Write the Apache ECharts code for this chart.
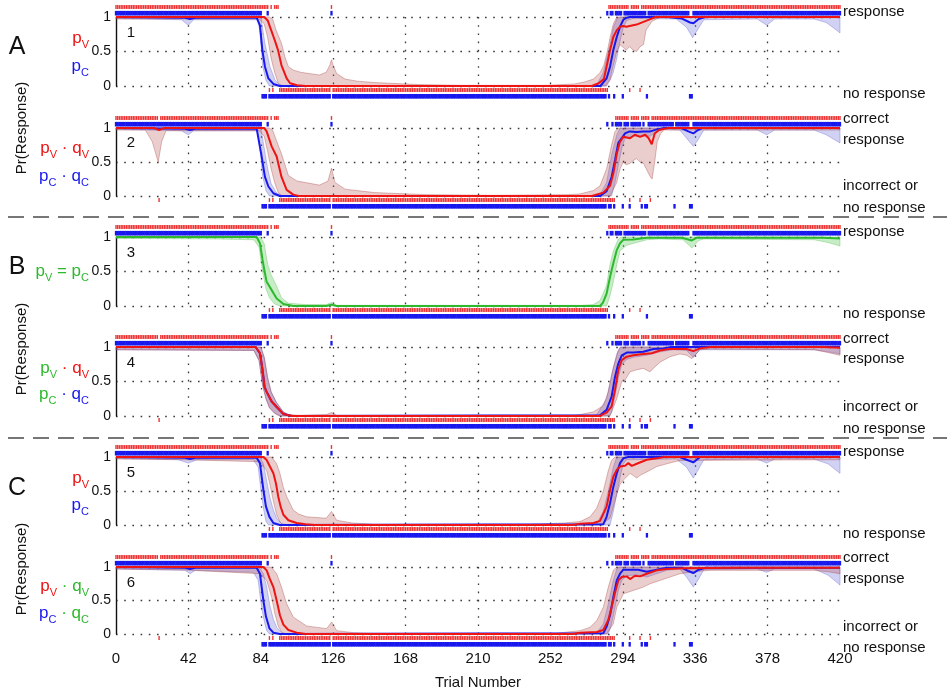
<!DOCTYPE html>
<html>
<head>
<meta charset="utf-8">
<title>Pr(Response)</title>
<script src="https://cdn.jsdelivr.net/npm/echarts@6/dist/echarts.min.js"></script>
<style>
  html, body { margin: 0; padding: 0; background: #fff; }
  #chart { width: 947px; height: 694px; }
</style>
</head>
<body>
<div id="chart"></div>
<script>
// 刻度
const trialTicks = [0, 42, 84, 126, 168, 210, 252, 294, 336, 378, 420]
const probTicks = [0, 0.5, 1]
const respLabels = ['response', 'no response']
const corrLabels = ['correct', 'response', 'incorrect or', 'no response']

// 反应栅格 (试次区间), A 组用于面板 1/3/5, B 组用于面板 2/4/6
const redTopA = [[0, 88], [90, 90], [92, 94], [125, 125], [286, 297], [299, 303], [305, 420]]
const redBotA = [[89, 89], [91, 91], [95, 124], [126, 285], [298, 298], [304, 304]]
const blueTopA = [[0, 84], [88, 88], [125, 125], [285, 285], [287, 288], [290, 293], [295, 307], [309, 332], [335, 420]]
const blueBotA = [[85, 87], [89, 124], [126, 284], [286, 286], [289, 289], [294, 294], [308, 308], [333, 334]]
const redTopB = [[0, 24], [26, 88], [90, 90], [92, 94], [125, 125], [290, 297], [299, 303], [305, 309], [311, 420]]
const redBotB = [[25, 25], [89, 89], [91, 91], [95, 124], [126, 289], [298, 298], [304, 304], [310, 310]]
const blueTopB = [[0, 84], [88, 88], [125, 125], [285, 285], [288, 288], [290, 293], [295, 297], [299, 304], [306, 306], [309, 323], [325, 332], [335, 420]]
const blueBotB = [[85, 87], [89, 124], [126, 284], [286, 287], [289, 289], [294, 294], [298, 298], [305, 305], [307, 308], [324, 324], [333, 334]]

// 面板 1
const p1RedLine = [[0, 1], [86, 1], [88, 0.95], [90, 0.81], [92, 0.67], [94, 0.52], [96, 0.3], [99, 0.11], [101, 0.04], [105, 0.01], [110, 0], [276, 0], [280, 0.04], [283, 0.1], [285, 0.33], [286.6, 0.52], [288.5, 0.71], [290.5, 0.81], [292.4, 0.86], [294.3, 0.87], [296, 0.86], [298, 0.87], [302, 0.89], [306, 0.93], [310, 0.97], [313, 1], [420, 1]]
const p1RedUpper = [[0, 1], [89, 1], [91, 0.96], [93, 0.8], [96, 0.62], [98, 0.42], [100, 0.28], [103, 0.23], [107, 0.2], [112, 0.18], [118, 0.16], [122, 0.2], [124, 0.3], [125, 0.38], [126, 0.3], [128, 0.18], [133, 0.1], [140, 0.07], [150, 0.05], [176, 0.02], [200, 0.01], [250, 0.01], [266, 0.03], [272, 0.06], [277, 0.1], [281, 0.2], [283, 0.3], [285, 0.5], [286.6, 0.7], [288.5, 0.9], [290.5, 1], [420, 1]]
const p1RedLower = [[0, 0.97], [83, 0.97], [86, 0.9], [88, 0.7], [90, 0.4], [92, 0.2], [94, 0.05], [96, 0], [284, 0], [286.6, 0.1], [288.5, 0.3], [290.5, 0.5], [292.4, 0.6], [296, 0.52], [298, 0.57], [300, 0.52], [302, 0.5], [304, 0.57], [306, 0.6], [307.5, 0.81], [311, 0.94], [315, 0.99], [420, 0.99]]
const p1BlueLine = [[0, 1], [40, 0.99], [43, 0.97], [46, 0.99], [81.6, 0.99], [83.5, 0.88], [84.9, 0.52], [86.4, 0.28], [88.4, 0.11], [91.3, 0.03], [95, 0], [281, 0], [284.6, 0.11], [286.6, 0.28], [288.5, 0.52], [290.5, 0.71], [292.4, 0.86], [294.3, 0.96], [296.3, 0.99], [298, 1], [320, 1], [328, 0.98], [333, 0.92], [335, 0.91], [338, 0.97], [342, 1], [420, 1]]
const p1BlueUpper = [[0, 1], [84, 1], [86.4, 0.62], [89.3, 0.28], [92.2, 0.09], [95, 0.02], [98, 0], [277, 0], [279, 0.02], [282.7, 0.2], [284.6, 0.4], [286.6, 0.6], [288.5, 0.85], [290.5, 0.97], [292.4, 1], [420, 1]]
const p1BlueLower = [[0, 0.98], [38, 0.96], [42, 0.88], [45, 0.96], [82, 0.96], [83.5, 0.8], [85, 0.3], [87, 0.08], [89, 0], [284.6, 0], [286.6, 0.08], [288.5, 0.2], [290.5, 0.4], [292.4, 0.65], [294.3, 0.85], [296.3, 0.95], [300, 0.98], [325, 0.97], [331, 0.85], [334.5, 0.7], [337, 0.8], [341, 0.96], [372, 0.97], [377.5, 0.88], [382, 0.97], [405, 0.97], [412, 0.92], [420, 0.77]]

// 面板 2
const p2RedLine = [[0, 1], [22, 1], [25, 0.97], [28, 1], [86, 1], [87.4, 0.95], [90.3, 0.73], [93.2, 0.58], [96, 0.28], [99, 0.09], [102.8, 0.02], [106, 0], [276, 0], [277, 0.02], [282.7, 0.05], [286.6, 0.15], [288.5, 0.33], [290.5, 0.62], [292.4, 0.8], [294.3, 0.87], [298.2, 0.85], [301, 0.9], [304, 0.87], [307, 0.9], [309, 0.85], [310.8, 0.76], [312.5, 0.92], [315, 0.97], [320, 1], [420, 1]]
const p2RedUpper = [[0, 1], [89, 1], [91, 0.96], [93, 0.82], [96, 0.62], [100, 0.3], [105, 0.22], [118, 0.16], [123, 0.22], [125, 0.41], [127, 0.2], [133, 0.1], [150, 0.05], [180, 0.02], [220, 0.01], [262, 0.02], [269, 0.03], [277, 0.08], [280.8, 0.15], [284.6, 0.4], [287.5, 0.75], [289.5, 0.95], [291.4, 1], [420, 1]]
const p2RedLower = [[0, 0.97], [17, 0.97], [21, 0.8], [24.5, 0.5], [26.5, 0.8], [29, 0.96], [83, 0.96], [86, 0.88], [88, 0.65], [90, 0.4], [92, 0.2], [94, 0.06], [96, 0], [286.6, 0], [290.5, 0.2], [292.4, 0.4], [294.3, 0.5], [296, 0.46], [298.2, 0.48], [300, 0.52], [302, 0.55], [304, 0.5], [306, 0.48], [308, 0.38], [310, 0.28], [311, 0.25], [312.5, 0.5], [314, 0.8], [316, 0.92], [318, 0.97], [420, 0.97]]
const p2BlueLine = [[0, 1], [40, 0.99], [43, 0.97], [46, 0.99], [81.6, 0.99], [84.5, 0.58], [86.4, 0.28], [88.4, 0.14], [91.3, 0.04], [95, 0], [280.8, 0], [284.6, 0.07], [287.5, 0.28], [289.5, 0.53], [291.4, 0.78], [293.4, 0.85], [295.3, 0.92], [298, 0.95], [302, 0.94], [306, 0.95], [310, 0.95], [313.7, 0.98], [318, 1], [328, 1], [332, 0.95], [334.9, 0.92], [337, 0.96], [340, 1], [420, 1]]
const p2BlueUpper = [[0, 1], [84, 1], [86, 0.7], [88, 0.4], [90, 0.18], [93, 0.05], [97, 0], [278, 0], [280.8, 0.02], [284.6, 0.2], [287.5, 0.6], [290.5, 0.9], [292.4, 1], [420, 1]]
const p2BlueLower = [[0, 0.98], [38, 0.96], [42, 0.9], [45, 0.96], [82, 0.96], [83.5, 0.7], [85, 0.3], [87, 0.08], [89, 0], [287.5, 0], [289.5, 0.2], [291.4, 0.45], [293.4, 0.7], [295.3, 0.85], [300, 0.88], [310, 0.88], [313.7, 0.95], [318, 0.98], [327, 0.97], [331, 0.85], [334.9, 0.73], [337.5, 0.82], [341, 0.97], [372, 0.97], [377.5, 0.9], [382, 0.97], [405, 0.97], [412, 0.9], [420, 0.78]]

// 面板 3
const p3GreenLine = [[0, 1], [81.6, 1], [83.5, 0.91], [85, 0.67], [86.2, 0.5], [87.4, 0.35], [90.3, 0.23], [93.2, 0.11], [97.1, 0.03], [102.8, 0], [122, 0], [125, 0.02], [128, 0], [280.8, 0], [282.5, 0.05], [284.6, 0.18], [286.6, 0.42], [288.5, 0.62], [290.5, 0.81], [292.4, 0.91], [294.3, 0.96], [300, 0.965], [307.9, 0.99], [328, 0.99], [331, 0.97], [334, 0.95], [337, 0.99], [410, 0.99], [420, 0.98]]
const p3GreenUpper = [[0, 1], [84, 1], [86, 0.9], [88, 0.6], [90, 0.45], [93, 0.3], [96, 0.12], [100, 0.04], [110, 0.02], [122, 0.02], [125, 0.05], [128, 0.01], [270, 0.01], [276.9, 0.02], [280.8, 0.08], [284.6, 0.3], [286.6, 0.6], [288.5, 0.8], [291.4, 0.97], [293, 1], [420, 1]]
const p3GreenLower = [[0, 0.98], [60, 0.97], [80, 0.96], [83, 0.85], [85, 0.5], [87, 0.25], [89, 0.12], [92, 0.03], [95, 0], [284.6, 0], [286.6, 0.15], [288.5, 0.35], [290.5, 0.6], [292.4, 0.8], [296.3, 0.88], [302, 0.92], [308, 0.96], [315, 0.97], [329, 0.96], [334, 0.84], [338, 0.95], [341, 0.97], [405, 0.96], [413, 0.92], [420, 0.87]]

// 面板 4
const p4RedLine = [[0, 1], [81, 1], [83.5, 0.91], [85, 0.67], [86.2, 0.42], [87.4, 0.35], [90.3, 0.21], [93.2, 0.13], [97, 0.03], [102, 0], [280.8, 0], [282, 0.02], [284.6, 0.05], [287.5, 0.14], [289.5, 0.38], [291.4, 0.67], [293.4, 0.81], [296.3, 0.86], [300.1, 0.88], [305.9, 0.9], [310.8, 0.91], [315.6, 0.95], [321, 0.97], [331, 0.97], [334.9, 0.94], [338.8, 0.98], [345, 1], [410, 1], [420, 0.99]]
const p4RedUpper = [[0, 1], [84, 1], [86, 0.85], [88, 0.55], [90, 0.35], [93, 0.2], [97, 0.06], [100, 0.02], [106, 0.01], [122, 0.02], [125, 0.05], [128, 0.01], [265, 0.01], [269.2, 0.02], [276.9, 0.06], [282.7, 0.15], [285.6, 0.35], [288.5, 0.7], [291.4, 0.95], [293, 1], [420, 1]]
const p4RedLower = [[0, 0.96], [80, 0.95], [83, 0.8], [85, 0.45], [87, 0.25], [89, 0.12], [92, 0.04], [95, 0], [286.6, 0], [290.5, 0.25], [293.4, 0.5], [295.3, 0.52], [298.2, 0.64], [302.1, 0.67], [305.9, 0.69], [309.8, 0.64], [311.7, 0.69], [315.6, 0.78], [321.4, 0.86], [327.2, 0.9], [331, 0.88], [334, 0.83], [338.8, 0.96], [345, 0.97], [405, 0.96], [413, 0.92], [420, 0.88]]
const p4BlueLine = [[0, 1], [81, 1], [83.5, 0.91], [85, 0.67], [86.2, 0.42], [87.4, 0.35], [90.3, 0.21], [93.2, 0.13], [97, 0.03], [102, 0], [280.8, 0.01], [284.6, 0.09], [287.5, 0.28], [289.5, 0.57], [291.4, 0.76], [293.4, 0.88], [296.3, 0.92], [300.1, 0.92], [305.9, 0.93], [311.7, 0.97], [317.5, 0.98], [322, 1], [420, 1]]
const p4BlueUpper = [[0, 1], [84, 1], [86, 0.85], [88, 0.55], [90, 0.35], [93, 0.2], [97, 0.06], [100, 0.02], [106, 0], [275, 0], [278.9, 0.02], [284.6, 0.25], [287.5, 0.6], [290.5, 0.9], [292.4, 1], [420, 1]]
const p4BlueLower = [[0, 0.96], [80, 0.95], [83, 0.8], [85, 0.45], [87, 0.25], [89, 0.12], [92, 0.04], [95, 0], [286, 0], [287.5, 0.05], [289.5, 0.3], [291.4, 0.55], [293.4, 0.75], [296.3, 0.82], [300.1, 0.85], [307.9, 0.88], [315.6, 0.93], [323.3, 0.96], [331, 0.95], [334.9, 0.85], [338.8, 0.96], [405, 0.96], [413, 0.93], [420, 0.9]]

// 面板 5
const p5RedLine = [[0, 1], [85.5, 1], [87.4, 0.956], [89.3, 0.86], [91.3, 0.76], [92.8, 0.61], [94.1, 0.42], [95.5, 0.27], [97.1, 0.15], [100, 0.07], [104.8, 0.03], [110, 0.01], [115, 0], [265, 0], [269.2, 0.02], [277, 0.03], [280.8, 0.06], [284.6, 0.27], [286.6, 0.515], [288.5, 0.71], [290.5, 0.81], [292.4, 0.86], [295.3, 0.87], [297.2, 0.91], [299.2, 0.87], [302.1, 0.9], [307.9, 0.96], [313.7, 0.98], [318, 1], [420, 1]]
const p5RedUpper = [[0, 1], [90.3, 1], [93.2, 0.9], [95.1, 0.76], [97.1, 0.55], [99, 0.42], [102.8, 0.22], [106, 0.16], [110.6, 0.12], [122, 0.1], [125, 0.2], [128, 0.07], [137, 0.03], [150, 0.01], [240, 0.01], [260, 0.03], [269.2, 0.05], [275, 0.12], [278.9, 0.25], [282.7, 0.5], [285.6, 0.8], [287.5, 0.95], [289.5, 1], [420, 1]]
const p5RedLower = [[0, 0.97], [40, 0.96], [83.5, 0.93], [87.4, 0.8], [89.3, 0.6], [91.3, 0.35], [93.2, 0.15], [95.1, 0.04], [97.1, 0], [280.8, 0], [286.6, 0.1], [290.5, 0.45], [292.4, 0.6], [294.3, 0.66], [296.3, 0.71], [298.2, 0.76], [302.1, 0.69], [304, 0.73], [307.9, 0.78], [313.7, 0.86], [319.5, 0.9], [327.2, 0.95], [420, 0.96]]
const p5BlueLine = [[0, 1], [40, 0.99], [43, 0.97], [46, 0.99], [81.6, 0.99], [83.5, 0.91], [84.5, 0.71], [85.5, 0.515], [87, 0.27], [89, 0.12], [91.3, 0.03], [95, 0], [282.7, 0.01], [284.6, 0.12], [286.6, 0.32], [288.5, 0.56], [290.5, 0.76], [292.4, 0.91], [294.3, 0.98], [297, 1], [327, 1], [331, 0.96], [334.9, 0.92], [338.8, 1], [420, 1]]
const p5BlueUpper = [[0, 1], [83.5, 1], [85.5, 0.9], [87.4, 0.65], [89.3, 0.4], [91.3, 0.22], [93.2, 0.1], [96, 0.02], [100, 0], [276, 0], [278.9, 0.02], [282.7, 0.2], [285.6, 0.5], [288.5, 0.85], [290.5, 1], [420, 1]]
const p5BlueLower = [[0, 0.98], [36, 0.96], [42, 0.91], [47, 0.96], [79.7, 0.96], [82.5, 0.85], [83.9, 0.55], [85.5, 0.25], [87, 0.05], [88.5, 0], [286.6, 0], [288.5, 0.2], [290.5, 0.45], [292.4, 0.7], [294.3, 0.9], [296.3, 0.96], [325, 0.97], [331, 0.85], [334.9, 0.69], [337.5, 0.8], [341, 0.96], [372, 0.97], [377.5, 0.91], [382, 0.97], [405, 0.97], [413, 0.9], [420, 0.76]]

// 面板 6
const p6RedLine = [[0, 1], [85.5, 1], [87.4, 0.95], [89.3, 0.82], [91.3, 0.7], [93.2, 0.5], [95.1, 0.28], [97.1, 0.14], [100, 0.06], [104.8, 0.02], [110, 0], [265, 0], [269.2, 0.02], [278.9, 0.03], [282.7, 0.06], [285.6, 0.21], [287.5, 0.4], [289.5, 0.62], [291.4, 0.8], [293.4, 0.85], [296.3, 0.86], [298.2, 0.82], [301.1, 0.87], [304, 0.86], [307.9, 0.9], [313.7, 0.95], [319.5, 0.97], [330, 0.98], [360, 0.99], [420, 0.99]]
const p6RedUpper = [[0, 1], [90, 1], [93.2, 0.9], [96, 0.7], [99, 0.45], [102.9, 0.25], [110.6, 0.12], [122.2, 0.08], [125.1, 0.18], [128, 0.05], [137.7, 0.02], [150, 0.01], [255, 0.01], [262, 0.03], [269.2, 0.05], [275, 0.1], [278.9, 0.2], [282.7, 0.4], [285.6, 0.7], [288.5, 0.95], [290.5, 1], [420, 1]]
const p6RedLower = [[0, 0.97], [40, 0.955], [83.5, 0.9], [87.4, 0.8], [90.3, 0.55], [92.2, 0.3], [94.1, 0.12], [96, 0.03], [98, 0], [284.6, 0], [288.5, 0.15], [290.5, 0.4], [293.4, 0.55], [294.3, 0.6], [300.1, 0.65], [305.9, 0.7], [309.8, 0.75], [315.6, 0.8], [321.4, 0.85], [327.2, 0.9], [335, 0.93], [345, 0.95], [405, 0.95], [413, 0.93], [420, 0.9]]
const p6BlueLine = [[0, 1], [40, 0.99], [43, 0.97], [46, 0.99], [81.6, 0.99], [83.5, 0.9], [84.5, 0.7], [85.5, 0.5], [87, 0.26], [89, 0.085], [91.3, 0.02], [95, 0], [282.7, 0.01], [284.6, 0.11], [286.6, 0.28], [288.5, 0.55], [290.5, 0.8], [292.4, 0.9], [294.3, 0.96], [300, 0.96], [303, 0.96], [307.9, 0.93], [313.7, 0.96], [319.5, 0.99], [328, 0.99], [332, 0.94], [334.9, 0.91], [338, 0.96], [342, 0.99], [420, 0.99]]
const p6BlueUpper = [[0, 1], [83.5, 0.98], [85.5, 0.9], [87.4, 0.7], [89.3, 0.42], [91.3, 0.22], [93.2, 0.1], [96, 0.02], [100, 0], [275, 0], [278.9, 0.02], [282.7, 0.15], [285.6, 0.45], [288.5, 0.8], [290.5, 0.97], [292, 1], [420, 1]]
const p6BlueLower = [[0, 0.97], [40, 0.95], [43, 0.9], [46, 0.95], [79.7, 0.92], [82.5, 0.8], [83.9, 0.5], [85.5, 0.25], [87.4, 0.05], [89, 0], [285.6, 0], [287.5, 0.15], [289.5, 0.4], [291.4, 0.65], [293.4, 0.8], [296.3, 0.87], [302.1, 0.88], [307.9, 0.85], [313.7, 0.9], [319.5, 0.95], [327, 0.97], [331, 0.85], [334.9, 0.7], [337.5, 0.8], [341, 0.96], [372, 0.97], [377.5, 0.92], [382, 0.97], [405, 0.97], [413, 0.88], [420, 0.73]]

const RED = '#ee1414'
const BLUE = '#1818ee'
const GREEN = '#2eb82e'
const RED_BAND = { fill: 'rgba(178,70,70,0.27)', stroke: 'rgba(165,65,65,0.45)' }
const BLUE_BAND = { fill: 'rgba(85,85,210,0.27)', stroke: 'rgba(80,80,200,0.4)' }
const GREEN_BAND = { fill: 'rgba(80,200,80,0.32)', stroke: 'rgba(70,180,70,0.4)' }
const FONT = '"Liberation Sans", Arial, sans-serif'

const gridTops = [17, 128, 237, 347, 457, 567]
const gridHeights = [69, 68, 69, 69, 68, 67]

const panels = [
    { bands: [[p1BlueUpper, p1BlueLower, BLUE_BAND], [p1RedUpper, p1RedLower, RED_BAND]], lines: [[p1BlueLine, BLUE], [p1RedLine, RED]], raster: 'A' },
    { bands: [[p2BlueUpper, p2BlueLower, BLUE_BAND], [p2RedUpper, p2RedLower, RED_BAND]], lines: [[p2BlueLine, BLUE], [p2RedLine, RED]], raster: 'B' },
    { bands: [[p3GreenUpper, p3GreenLower, GREEN_BAND]], lines: [[p3GreenLine, GREEN]], raster: 'A' },
    { bands: [[p4BlueUpper, p4BlueLower, BLUE_BAND], [p4RedUpper, p4RedLower, RED_BAND]], lines: [[p4BlueLine, BLUE], [p4RedLine, RED]], raster: 'B' },
    { bands: [[p5BlueUpper, p5BlueLower, BLUE_BAND], [p5RedUpper, p5RedLower, RED_BAND]], lines: [[p5BlueLine, BLUE], [p5RedLine, RED]], raster: 'A' },
    { bands: [[p6BlueUpper, p6BlueLower, BLUE_BAND], [p6RedUpper, p6RedLower, RED_BAND]], lines: [[p6BlueLine, BLUE], [p6RedLine, RED]], raster: 'B' }
]

// 区间 => 试次列表
function expand(ranges) {
    const out = []
    ranges.forEach(function (r) {
        for (let t = r[0]; t <= r[1]; t++) out.push(t)
    })
    return out
}

function bandSeries(i, upper, lower, st) {
    return {
        type: 'custom', xAxisIndex: i, yAxisIndex: i, silent: true, z: 1,
        data: [[0, 0]],
        renderItem: function (params, api) {
            const pts = upper.map(function (p) { return api.coord(p) })
                .concat(lower.slice().reverse().map(function (p) { return api.coord(p) }))
            return { type: 'polygon', shape: { points: pts }, style: { fill: st.fill, stroke: st.stroke, lineWidth: 0.8 } }
        }
    }
}

// 栅格刻线: 以 y=1 或 y=0 为基准，向外偏移若干像素
function rasterSeries(i, ranges, level, dy, w, h, color) {
    return {
        type: 'custom', xAxisIndex: i, yAxisIndex: i, silent: true, z: 4,
        data: expand(ranges).map(function (t) { return [t, level] }),
        renderItem: function (params, api) {
            const p = api.coord([api.value(0), api.value(1)])
            return { type: 'rect', shape: { x: p[0] - w / 2, y: p[1] + dy - h / 2, width: w, height: h }, style: { fill: color } }
        }
    }
}

const grids = [], xAxes = [], yAxes = [], series = []
const dotted = { color: '#3a3a3a', width: 1.3, type: [1.6, 6.6] }

panels.forEach(function (pn, i) {
    grids.push({ left: 116, width: 724, top: gridTops[i], height: gridHeights[i], outerBoundsMode: 'none' })
    xAxes.push({
        type: 'value', gridIndex: i,
        min: trialTicks[0], max: trialTicks[trialTicks.length - 1], interval: trialTicks[1] - trialTicks[0],
        axisLine: { show: false }, axisTick: { show: false },
        axisLabel: { show: i === panels.length - 1, color: '#111', fontSize: 15, fontFamily: FONT, margin: 17 },
        splitLine: { show: true, showMinLine: false, showMaxLine: false, lineStyle: dotted }
    })
    yAxes.push({
        type: 'value', gridIndex: i,
        min: probTicks[0], max: probTicks[probTicks.length - 1], interval: probTicks[1] - probTicks[0],
        axisLine: { show: true, lineStyle: { color: '#111', width: 1.4 } },
        axisTick: { show: false },
        axisLabel: { color: '#111', fontSize: 14, fontFamily: FONT, margin: 5 },
        splitLine: { show: true, lineStyle: dotted }
    })
    pn.bands.forEach(function (b) { series.push(bandSeries(i, b[0], b[1], b[2])) })
    pn.lines.forEach(function (l) {
        series.push({
            type: 'line', xAxisIndex: i, yAxisIndex: i, data: l[0], silent: true, z: 3,
            symbol: 'none', showSymbol: false, animation: false,
            lineStyle: { color: l[1], width: 2 }, itemStyle: { color: l[1] }
        })
    })
    const A = pn.raster === 'A'
    series.push(rasterSeries(i, A ? redTopA : redTopB, 1, -10, 1.4, 3.8, '#ee3030'))
    series.push(rasterSeries(i, A ? blueTopA : blueTopB, 1, -3.8, 2.3, 4.6, BLUE))
    series.push(rasterSeries(i, A ? redBotA : redBotB, 0, 4, 1.4, 3.8, '#ee3030'))
    series.push(rasterSeries(i, A ? blueBotA : blueBotB, 0, 10.3, 2.3, 4.6, BLUE))
})

// 文本
function txt(x, y, text, opts) {
    opts = opts || {}
    return {
        type: 'text', x: x, y: y, rotation: opts.rotation || 0, silent: true,
        style: {
            text: text, fill: '#111', font: (opts.size || 15) + 'px ' + FONT,
            align: opts.align || 'left', verticalAlign: 'middle',
            textAlign: opts.align || 'left', textVerticalAlign: 'middle'
        }
    }
}

const rich = {}
;[['r', RED], ['b', BLUE], ['g', GREEN]].forEach(function (c) {
    rich[c[0]] = { fontSize: 17, fontFamily: FONT, fill: c[1], color: c[1], lineHeight: 24 }
    rich[c[0] + 's'] = { fontSize: 11, fontFamily: FONT, fill: c[1], color: c[1], lineHeight: 12, verticalAlign: 'bottom' }
})
function legend(y, text) {
    return {
        type: 'text', x: 89, y: y, silent: true,
        style: { text: text, rich: rich, align: 'right', verticalAlign: 'middle', textAlign: 'right', textVerticalAlign: 'middle' }
    }
}

const graphics = [
    txt(17, 47, 'A', { size: 25, align: 'center' }),
    txt(17, 267, 'B', { size: 25, align: 'center' }),
    txt(17, 488, 'C', { size: 25, align: 'center' }),
    txt(22, 128, 'Pr(Response)', { rotation: Math.PI / 2, align: 'center' }),
    txt(22, 349, 'Pr(Response)', { rotation: Math.PI / 2, align: 'center' }),
    txt(22, 569, 'Pr(Response)', { rotation: Math.PI / 2, align: 'center' }),
    txt(478, 683, 'Trial Number', { align: 'center' }),
    legend(38, '{r|p}{rs|V}'),
    legend(66, '{b|p}{bs|C}'),
    legend(148, '{r|p}{rs|V}{r| · q}{rs|V}'),
    legend(176, '{b|p}{bs|C}{b| · q}{bs|C}'),
    legend(271, '{g|p}{gs|V}{g| = p}{gs|C}'),
    legend(368, '{g|p}{gs|V}{r| · q}{rs|V}'),
    legend(394, '{g|p}{gs|C}{b| · q}{bs|C}'),
    legend(478, '{r|p}{rs|V}'),
    legend(505, '{b|p}{bs|C}'),
    legend(586, '{r|p}{rs|V}{g| · q}{gs|V}'),
    legend(613, '{b|p}{bs|C}{g| · q}{gs|C}')
]
const numberYs = [33, 143, 253, 363, 473, 583]
numberYs.forEach(function (y, i) { graphics.push(txt(131, y, String(i + 1), { align: 'center' })) })

// 右侧说明
const respYs = [[12, 93.5], [232, 313.5], [452, 533.5]]
const corrYs = [[119, 139.5, 186, 207.5], [338.5, 358.5, 407, 428.5], [558, 578.5, 627, 648]]
respYs.forEach(function (ys) { ys.forEach(function (y, k) { graphics.push(txt(843, y, respLabels[k])) }) })
corrYs.forEach(function (ys) { ys.forEach(function (y, k) { graphics.push(txt(843, y, corrLabels[k])) }) })

// 分隔虚线
;[217, 438].forEach(function (y) {
    graphics.push({
        type: 'line', silent: true,
        shape: { x1: 8, y1: y, x2: 947, y2: y },
        style: { stroke: '#4a4a4a', lineWidth: 1.5, lineDash: [16, 9] }
    })
})

const chart = echarts.init(document.getElementById('chart'), null, { renderer: 'canvas' })
chart.setOption({
    animation: false,
    backgroundColor: '#fff',
    textStyle: { fontFamily: FONT },
    grid: grids,
    xAxis: xAxes,
    yAxis: yAxes,
    series: series,
    graphic: { elements: graphics }
})
</script>
</body>
</html>
